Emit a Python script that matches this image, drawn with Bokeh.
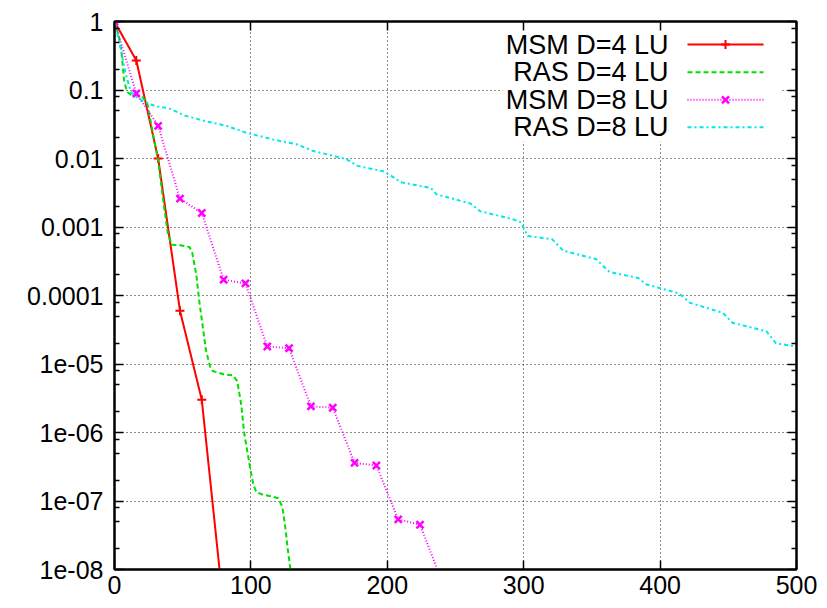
from bokeh.plotting import figure
from bokeh.models import Range1d, FixedTicker, LogAxis, LinearAxis, CustomJSTickFormatter
from bokeh.core.properties import value
from bokeh.embed import file_html
from bokeh.resources import INLINE

# ---------------- data ----------------
msm4_x = [0, 16, 32, 48, 64, 80]
msm4_y = [1.0, 0.27, 0.010, 6.0e-5, 3.0e-6, 2.7e-9]

ras4_x = [0, 3, 5, 7, 9, 12, 20, 24, 28, 32, 36, 39, 42, 48, 55, 57, 60, 62, 65, 67,
          70, 72, 80, 87, 90, 93, 95, 98, 100, 102, 104, 109, 115, 120, 123, 125, 127, 129, 132]
ras4_y = [1.0, 0.63, 0.38, 0.14, 0.095, 0.085, 0.081, 0.065, 0.024, 0.0093, 0.0022, 8.3e-4,
          5.5e-4, 5.4e-4, 5.1e-4, 4.2e-4, 2.0e-4, 8.7e-5, 3.2e-5, 1.6e-5, 9.3e-6, 7.9e-6,
          7.1e-6, 6.8e-6, 5.6e-6, 2.5e-6, 1.0e-6, 4.5e-7, 2.6e-7, 1.7e-7, 1.35e-7, 1.23e-7,
          1.17e-7, 1.1e-7, 8.3e-8, 4.5e-8, 2.0e-8, 1.0e-8, 3.5e-9]

msm8_x = [0, 16, 32, 48, 64, 80, 96, 112, 128, 144, 160, 176, 192, 208, 224, 240]
msm8_y = [1.0, 0.089, 0.030, 0.0026, 0.0016, 1.7e-4, 1.5e-4, 1.8e-5, 1.7e-5, 2.4e-6,
          2.3e-6, 3.6e-7, 3.3e-7, 5.4e-8, 4.5e-8, 6.8e-9]

ras8_x = [0, 4, 8, 12, 16, 21, 30, 40, 52, 67, 82, 96, 116, 134, 145, 170, 178, 197, 204,
          210, 232, 236, 261, 268, 292, 298, 303, 321, 329, 353, 363, 384, 390, 414, 422,
          446, 453, 478, 485, 500]
ras8_y = [1.0, 0.45, 0.18, 0.093, 0.079, 0.069, 0.058, 0.054, 0.042, 0.035, 0.030, 0.024,
          0.019, 0.016, 0.013, 0.0098, 0.0078, 0.0065, 0.0054, 0.0045, 0.0037, 0.0030,
          0.0022, 0.0017, 0.0013, 0.00117, 7.4e-4, 6.6e-4, 4.5e-4, 3.4e-4, 2.2e-4, 1.8e-4,
          1.45e-4, 1.07e-4, 7.8e-5, 5.6e-5, 4.0e-5, 3.0e-5, 2.0e-5, 1.8e-5]

series_names = ["MSM D=4 LU", "RAS D=4 LU", "MSM D=8 LU", "RAS D=8 LU"]

x_ticks = [0, 100, 200, 300, 400, 500]
y_ticks = [1e-8, 1e-7, 1e-6, 1e-5, 1e-4, 1e-3, 1e-2, 1e-1, 1.0]
y_tick_labels = ["1", "0.1", "0.01", "0.001", "0.0001", "1e-05", "1e-06", "1e-07", "1e-08"]
y_minor = [m * 10.0 ** k for k in range(-8, 0) for m in (2, 5, 8)]

XMIN, XMAX = 0, 500
YMIN, YMAX = 1e-8, 1.0

# ---------------- layout ----------------
FONT = "Liberation Sans"
BL, BR, BT, BB = 114, 22, 21, 37
W, H = 818, 606
p = figure(width=W, height=H, output_backend="svg", toolbar_location=None,
           y_axis_type="log", x_range=Range1d(XMIN, XMAX), y_range=Range1d(YMIN, YMAX),
           min_border_left=BL, min_border_right=BR, min_border_top=BT, min_border_bottom=BB)
p.background_fill_color = "white"
p.border_fill_color = "white"
p.outline_line_color = "black"
p.outline_line_width = 2

# frame position inside the figure (for the legend placement)
FX0, FX1, FY0, FY1 = BL, W - BR, BT, H - BB
def px2x(px):
    return XMIN + (px - FX0) / (FX1 - FX0) * (XMAX - XMIN)
def py2y(py):
    return 10 ** (-(py - FY0) / (FY1 - FY0) * 8)

xt = FixedTicker(ticks=x_ticks)
yt = FixedTicker(ticks=y_ticks, minor_ticks=y_minor)
yfmt = CustomJSTickFormatter(args=dict(labels=y_tick_labels),
                             code="return labels[Math.round(-Math.log10(tick))];")
blank = CustomJSTickFormatter(code="return '';")

def style_axis(ax):
    ax.axis_line_color = "black"
    ax.axis_line_width = 2
    ax.major_tick_in = 9
    ax.major_tick_out = 0
    ax.minor_tick_in = 5
    ax.minor_tick_out = 0
    ax.major_tick_line_width = 1.5
    ax.minor_tick_line_width = 1.5
    ax.major_label_text_font = FONT
    ax.major_label_text_font_size = "25px"
    ax.major_label_text_color = "black"

ya = p.yaxis[0]
ya.ticker = yt
ya.formatter = yfmt
style_axis(ya)
ya.major_label_standoff = 11

xa = p.xaxis[0]
xa.ticker = xt
style_axis(xa)
xa.major_label_standoff = 6
xa.minor_tick_in = 0

ra = LogAxis(ticker=yt, formatter=blank)
style_axis(ra)
ra.major_label_text_font_size = "1px"
p.add_layout(ra, "right")
ta = LinearAxis(ticker=xt, formatter=blank)
style_axis(ta)
ta.major_label_text_font_size = "1px"
ta.minor_tick_in = 0
p.add_layout(ta, "above")

for g in (p.xgrid[0], p.ygrid[0]):
    g.grid_line_color = "#1a1a1a"
    g.grid_line_dash = "1 3"
    g.grid_line_width = 1
p.xgrid[0].ticker = FixedTicker(ticks=x_ticks[1:-1])
p.ygrid[0].ticker = FixedTicker(ticks=y_ticks[1:-1])

# ---------------- series ----------------
RED, GREEN, MAG, CYAN = "#ff0000", "#00e000", "#ff00ff", "#00e8e8"
DASH_G, DOT_M, DASHDOT_C = "5 3", "1 2", "4 3 2 3"

p.line(msm4_x, msm4_y, line_color=RED, line_width=2)
p.scatter(msm4_x, msm4_y, marker="cross", size=9, line_color=RED, line_width=2)
p.line(ras4_x, ras4_y, line_color=GREEN, line_width=2, line_dash=DASH_G)
p.line(msm8_x, msm8_y, line_color=MAG, line_width=2, line_dash=DOT_M)
p.scatter(msm8_x, msm8_y, marker="x", size=10, line_color=MAG, line_width=2.5)
p.line(ras8_x, ras8_y, line_color=CYAN, line_width=2, line_dash=DASHDOT_C)

# ---------------- legend (label left of sample, like gnuplot) ----------------
p.quad(left=px2x(502), right=px2x(781), top=py2y(23), bottom=py2y(141),
       fill_color="white", line_color=None)
rows_py = [44, 71.7, 99.3, 126.7]
styles = [
    dict(line_color=RED, line_width=2),
    dict(line_color=GREEN, line_width=2, line_dash=DASH_G),
    dict(line_color=MAG, line_width=2, line_dash=DOT_M),
    dict(line_color=CYAN, line_width=2, line_dash=DASHDOT_C),
]
markers = [("cross", 9, 2), None, ("x", 10, 2.5), None]
for name, py, st, mk in zip(series_names, rows_py, styles, markers):
    yy = py2y(py)
    p.line([px2x(687), px2x(763)], [yy, yy], **st)
    if mk:
        p.scatter([px2x(725)], [yy], marker=mk[0], size=mk[1],
                  line_color=st["line_color"], line_width=mk[2])
    p.text(x=[px2x(668)], y=[yy], text=[name], text_align="right", text_baseline="middle",
           text_font=value(FONT), text_font_size="27px", text_color="black")

open("out.html", "w").write(file_html(p, INLINE))
